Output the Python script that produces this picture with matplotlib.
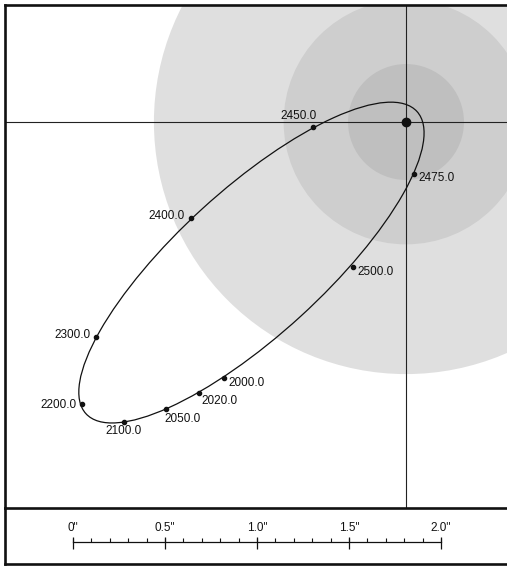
import numpy as np
import matplotlib
matplotlib.use("Agg")
import matplotlib.pyplot as plt
from matplotlib.patches import Circle, Ellipse

plt.rcParams['font.family'] = ['Liberation Sans', 'DejaVu Sans']

# Epochs along the orbit and the companion's offset from the primary (arcsec)
epochs = ["2000.0", "2020.0", "2050.0", "2100.0", "2200.0",
          "2300.0", "2400.0", "2450.0", "2475.0", "2500.0"]
dx = [-0.989, -1.125, -1.304, -1.533, -1.761, -1.685, -1.168, -0.505, 0.043, -0.288]
dy = [-1.391, -1.473, -1.560, -1.630, -1.533, -1.168, -0.522, -0.027, -0.283, -0.788]

# Apparent orbit (arcsec / degrees)
orbit_center = (-0.840, -0.764)
orbit_a = 1.218
orbit_b = 0.396
orbit_pa = 42.4

# Shaded zones round the primary (arcsec)
zone_radii = [1.37, 0.665, 0.315]
zone_colors = ["#dfdfdf", "#cecece", "#bfbfbf"]

# Scale bar
bar_major = [0.0, 0.5, 1.0, 1.5, 2.0]
bar_labels = ['0"', '0.5"', '1.0"', '1.5"', '2.0"']
bar_minor = np.arange(0.0, 2.0001, 0.1)

# label placement (pixel offsets, alignment)
label_style = {
    "2000.0": ((4, -5), "left", "center"),
    "2020.0": ((2, -8), "left", "center"),
    "2050.0": ((-2, -10), "left", "center"),
    "2100.0": ((0, -9), "center", "center"),
    "2200.0": ((-5, -1), "right", "center"),
    "2300.0": ((-5, 2), "right", "center"),
    "2400.0": ((-6, 2), "right", "center"),
    "2450.0": ((4, 5), "right", "bottom"),
    "2475.0": ((5, -4), "left", "center"),
    "2500.0": ((4, -5), "left", "center"),
}

W, H, DPI = 507, 567, 100
fig = plt.figure(figsize=(W / DPI, H / DPI), dpi=DPI)
fig.patch.set_facecolor("white")

scale = 184.0  # pixels per arcsec
x0, y0 = 406, 122  # primary star position in the frame (px)
L, R, T, B = 5, 507, 5, 508

ax = fig.add_axes([L / W, (H - B) / H, (R - L) / W, (B - T) / H])
ax.set_xlim((L - x0) / scale, (R - x0) / scale)
ax.set_ylim((y0 - B) / scale, (y0 - T) / scale)
ax.set_xticks([])
ax.set_yticks([])
for s in ["left", "top", "bottom"]:
    ax.spines[s].set_linewidth(1.9)
    ax.spines[s].set_color("#111111")
ax.spines["right"].set_visible(False)

for r, c in zip(zone_radii, zone_colors):
    ax.add_patch(Circle((0, 0), r, facecolor=c, edgecolor="none", zorder=1))

ax.axhline(0, color="#222222", lw=0.8, zorder=2)
ax.axvline(0, color="#222222", lw=0.8, zorder=2)

ax.add_patch(Ellipse(orbit_center, 2 * orbit_a, 2 * orbit_b, angle=orbit_pa,
                     facecolor="none", edgecolor="#111111", lw=0.9, zorder=3))

ax.plot(dx, dy, ls="none", marker="o", ms=3.0, color="#111111", zorder=4)
ax.plot([0], [0], ls="none", marker="o", ms=6, color="#111111", zorder=4)

for e, x, y in zip(epochs, dx, dy):
    off, ha, va = label_style[e]
    ax.annotate(e, (x, y), xytext=off, textcoords="offset pixels",
                ha=ha, va=va, fontsize=8.5, color="#111111", zorder=5)

# scale bar panel
B2 = 564
bx = fig.add_axes([L / W, (H - B2) / H, (R - L) / W, (B2 - B) / H])
bx.patch.set_visible(False)
bx.set_xlim((L - 73) / scale, (R - 73) / scale)
bx.set_ylim(0, B2 - B)
bx.set_xticks([])
bx.set_yticks([])
for s in ["left", "bottom"]:
    bx.spines[s].set_linewidth(1.9)
    bx.spines[s].set_color("#111111")
bx.spines["top"].set_visible(False)
bx.spines["right"].set_visible(False)

ybar = 22.3
bx.plot([bar_minor[0], bar_minor[-1]], [ybar, ybar], color="#111111", lw=0.9)
bx.vlines(bar_minor, ybar, ybar + 4, color="#111111", lw=0.8)
bx.vlines(bar_major, ybar - 7, ybar + 5, color="#111111", lw=0.9)
for v, t in zip(bar_major, bar_labels):
    bx.text(v, ybar + 8, t, ha="center", va="bottom", fontsize=8.5, color="#111111")

fig.savefig("out.png", dpi=DPI)
